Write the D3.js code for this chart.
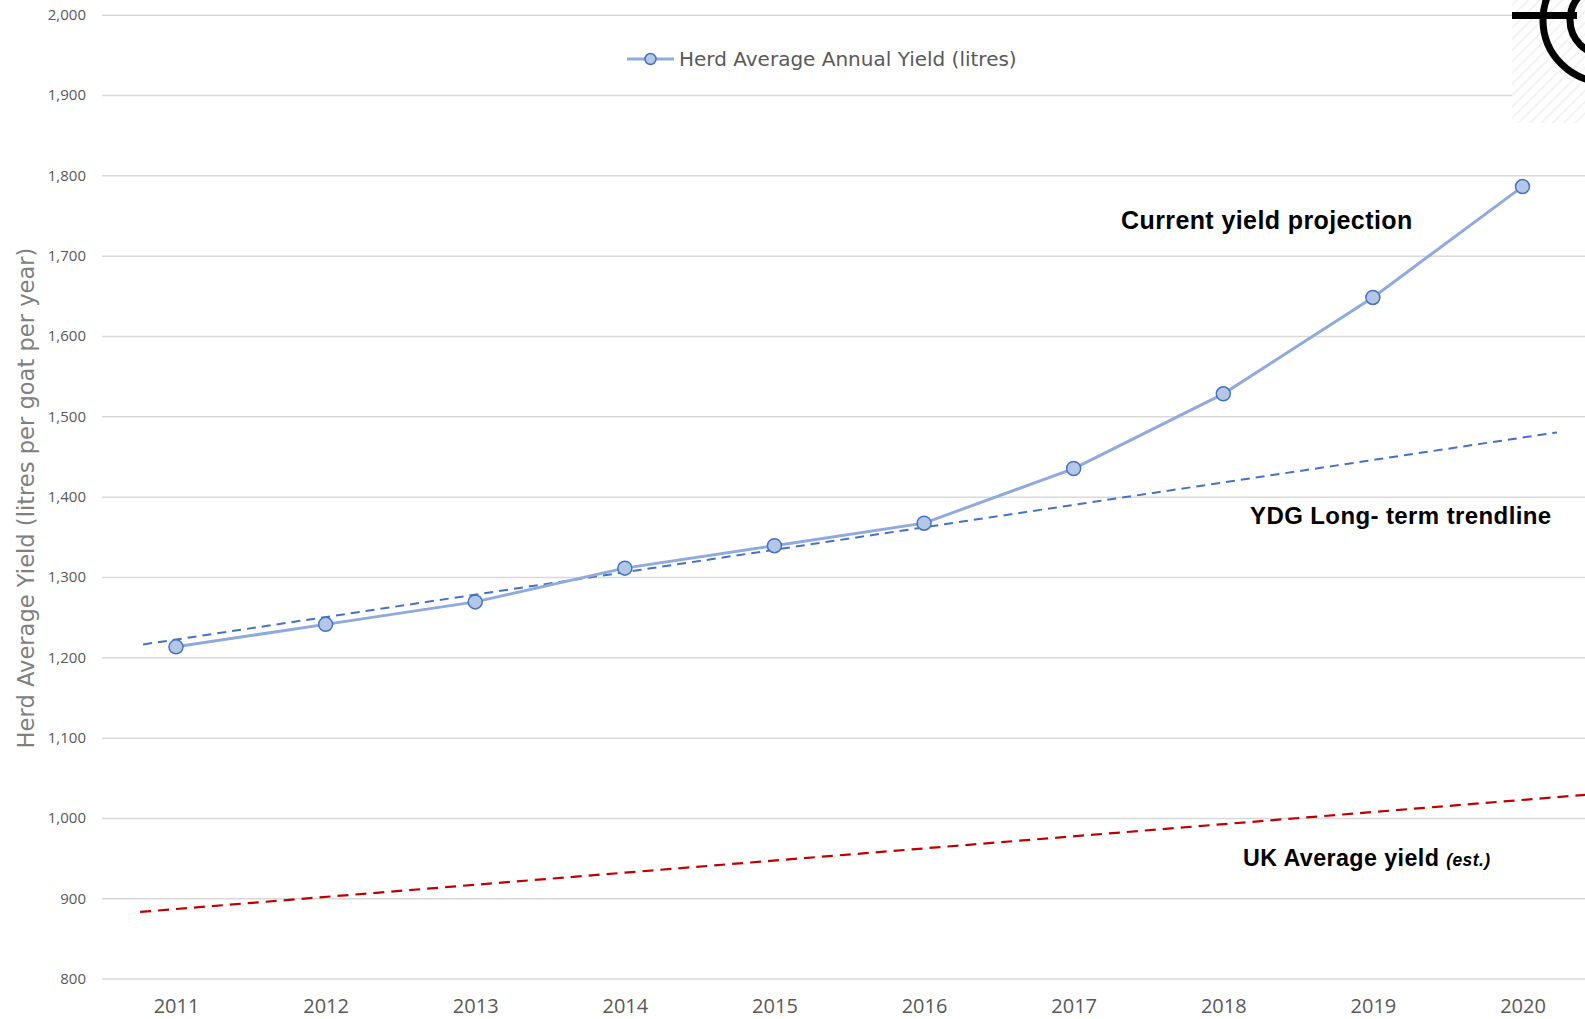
<!DOCTYPE html>
<html>
<head>
<meta charset="utf-8">
<script src="https://cdn.jsdelivr.net/npm/d3@7"></script>
<style>
  html, body { margin: 0; padding: 0; background: #fff; }
  svg { display: block; }
</style>
</head>
<body>
<div id="chart"></div>
<script>
// Data
const years = [2011, 2012, 2013, 2014, 2015, 2016, 2017, 2018, 2019, 2020];
const herdYield = [1213, 1241, 1269, 1311, 1339, 1367, 1435, 1528, 1648, 1786];
const yTicks = [800, 900, 1000, 1100, 1200, 1300, 1400, 1500, 1600, 1700, 1800, 1900, 2000];

// Trendlines (start / end as drawn)
const ydgTrendYears = [2010.78, 2020.23];
const ydgTrendValues = [1216, 1480];
const ukTrendYears = [2010.76, 2020.5];
const ukTrendValues = [883, 1030];

const W = 1585, H = 1019;
const margins = { top: 14.7, left: 102, bottom: 40.4 };

const svg = d3.select('#chart').append('svg')
    .attr('width', W)
    .attr('height', H);

const x = d3.scaleLinear()
    .domain([2011, 2020])
    .range([176, 1522.5]);

const y = d3.scaleLinear()
    .domain([800, 2000])
    .range([H - margins.bottom, margins.top]);

// Grid + y labels
const yAxis = svg.append('g')
    .attr('transform', `translate(${margins.left},0)`)
    .call(d3.axisLeft(y)
        .tickValues(yTicks)
        .tickSize(-(W - margins.left))
        .tickPadding(16)
        .tickFormat(d3.format(',')));
yAxis.select('.domain').remove();
yAxis.selectAll('line').attr('stroke', '#d9d9d9').attr('stroke-width', 1.5);
yAxis.selectAll('text')
    .attr('fill', '#595959')
    .style('font-family', '"Open Sans", sans-serif')
    .style('font-size', '15px');

// x labels
const xAxis = svg.append('g')
    .attr('transform', `translate(0,${y(800)})`)
    .call(d3.axisBottom(x).tickValues(years).tickSize(0).tickFormat(d3.format('d')));
xAxis.select('.domain').remove();
xAxis.selectAll('text')
    .attr('y', 34)
    .attr('dy', 0)
    .attr('fill', '#595959')
    .style('font-family', '"Open Sans", sans-serif')
    .style('font-size', '20px');

// y axis title
svg.append('text')
    .attr('transform', `translate(34,${(248 + 748) / 2}) rotate(-90)`)
    .attr('text-anchor', 'middle')
    .attr('fill', '#808080')
    .style('font-family', '"DejaVu Sans", sans-serif')
    .style('font-size', '22.6px')
    .text('Herd Average Yield (litres per goat per year)');

// trendlines
const trendLine = d3.line().x(d => x(d[0])).y(d => y(d[1]));

svg.append('path')
    .datum(d3.zip(ukTrendYears, ukTrendValues))
    .attr('d', trendLine)
    .attr('fill', 'none')
    .attr('stroke', '#c00000')
    .attr('stroke-width', 2.2)
    .attr('stroke-dasharray', '11,7');

svg.append('path')
    .datum(d3.zip(ydgTrendYears, ydgTrendValues))
    .attr('d', trendLine)
    .attr('fill', 'none')
    .attr('stroke', '#4472c4')
    .attr('stroke-width', 2)
    .attr('stroke-dasharray', '9,6');

// herd yield series
const series = d3.zip(years, herdYield);
svg.append('path')
    .datum(series)
    .attr('d', trendLine)
    .attr('fill', 'none')
    .attr('stroke', '#8faadc')
    .attr('stroke-width', 3);

svg.selectAll('.pt')
    .data(series)
    .enter().append('circle')
    .attr('class', 'pt')
    .attr('cx', d => x(d[0]))
    .attr('cy', d => y(d[1]))
    .attr('r', 7)
    .attr('fill', '#b4c7e7')
    .attr('stroke', '#4472c4')
    .attr('stroke-width', 1.5);

// legend
const legend = svg.append('g').attr('transform', 'translate(627,59)');
legend.append('line')
    .attr('x1', 0).attr('x2', 47)
    .attr('stroke', '#8faadc').attr('stroke-width', 3);
legend.append('circle')
    .attr('cx', 23.5).attr('r', 5.5)
    .attr('fill', '#b4c7e7').attr('stroke', '#4472c4').attr('stroke-width', 1.5);
legend.append('text')
    .attr('x', 52).attr('y', 7)
    .attr('fill', '#595959')
    .style('font-family', '"DejaVu Sans", sans-serif')
    .style('font-size', '20px')
    .text('Herd Average Annual Yield (litres)');

// annotations
const note = (tx, ty, size, label) => svg.append('text')
    .attr('x', tx).attr('y', ty)
    .attr('fill', '#000')
    .style('font-family', '"Liberation Sans", Arial, sans-serif')
    .style('font-weight', 'bold')
    .style('font-size', size + 'px')
    .style('letter-spacing', '0.4px')
    .text(label);

note(1121, 229, 25, 'Current yield projection');
note(1250, 524, 24, 'YDG Long- term trendline');
const uk = note(1243, 866, 23.3, 'UK Average yield ');
uk.append('tspan')
    .style('font-style', 'italic')
    .style('font-size', '17.5px')
    .text('(est.)');

// corner logo fragment
const defs = svg.append('defs');
const pat = defs.append('pattern')
    .attr('id', 'hatch')
    .attr('width', 8).attr('height', 8)
    .attr('patternUnits', 'userSpaceOnUse')
    .attr('patternTransform', 'rotate(45)');
pat.append('line')
    .attr('x1', 0).attr('y1', 0).attr('x2', 0).attr('y2', 8)
    .attr('stroke', '#efefef').attr('stroke-width', 3);

const logo = svg.append('g');
logo.append('rect')
    .attr('x', 1512).attr('y', 0).attr('width', W - 1512).attr('height', 123)
    .attr('fill', '#fff');
logo.append('rect')
    .attr('x', 1512).attr('y', 0).attr('width', W - 1512).attr('height', 123)
    .attr('fill', 'url(#hatch)');
logo.append('circle')
    .attr('cx', 1605).attr('cy', 20).attr('r', 62)
    .attr('fill', 'none').attr('stroke', '#000').attr('stroke-width', 7);
logo.append('circle')
    .attr('cx', 1605).attr('cy', 20).attr('r', 35)
    .attr('fill', 'none').attr('stroke', '#000').attr('stroke-width', 7);
logo.append('rect')
    .attr('x', 1512).attr('y', 12).attr('width', 65).attr('height', 7)
    .attr('fill', '#000');
</script>
</body>
</html>
